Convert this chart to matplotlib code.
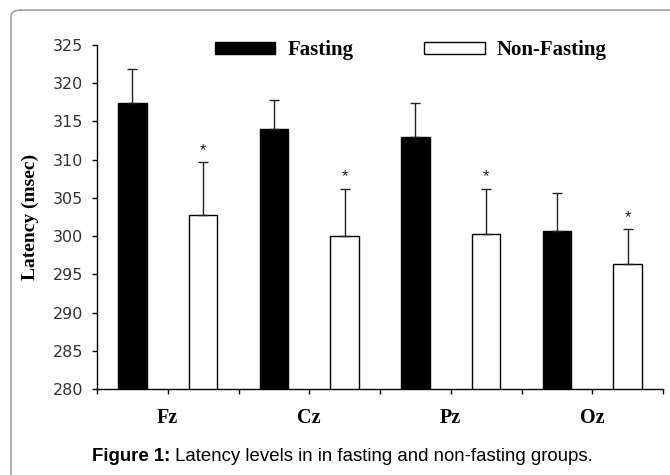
import matplotlib
matplotlib.use("Agg")
import matplotlib.pyplot as plt
from matplotlib.patches import FancyBboxPatch
import numpy as np

categories = ["Fz", "Cz", "Pz", "Oz"]
fasting = [317.4, 314.0, 313.0, 300.7]
fasting_err = [4.5, 3.8, 4.4, 5.0]
nonfasting = [302.8, 300.0, 300.3, 296.3]
nonfasting_err = [6.9, 6.2, 5.9, 4.6]
series_names = ["Fasting", "Non-Fasting"]
y_ticks = [280, 285, 290, 295, 300, 305, 310, 315, 320, 325]
y_label = "Latency (msec)"
caption_bold = "Figure 1:"
caption_rest = " Latency levels in in fasting and non-fasting groups."

serif_bold = dict(family=["Liberation Serif", "DejaVu Serif"], weight="bold")
sans = ["Liberation Sans", "DejaVu Sans"]

fig = plt.figure(figsize=(6.7, 4.75), dpi=100)
fig.patch.set_facecolor("white")

# rounded frame
frame = FancyBboxPatch((11 / 670, 1 - 485 / 475), 700 / 670, 475 / 475,
                       boxstyle="round,pad=0,rounding_size=0.015",
                       transform=fig.transFigure, facecolor="none",
                       edgecolor="#a0a0a0", linewidth=1.2, zorder=0)
fig.add_artist(frame)

ax = fig.add_axes([97 / 670, 1 - 389 / 475, 566 / 670, 344 / 475])
x = np.arange(len(categories))
w = 0.2
err_kw = dict(ecolor="#222222", elinewidth=1.0, capsize=3.3, capthick=1.0)
ax.bar(x + 0.25, fasting, width=w, color="black", edgecolor="black",
       linewidth=1.0, yerr=[np.zeros(4), fasting_err], error_kw=err_kw,
       label=series_names[0], zorder=2)
ax.bar(x + 0.75, nonfasting, width=w, color="white", edgecolor="black",
       linewidth=1.0, yerr=[np.zeros(4), nonfasting_err], error_kw=err_kw,
       label=series_names[1], zorder=2)

for xi, v, e in zip(x + 0.75, nonfasting, nonfasting_err):
    ax.annotate("*", (xi, v + e), xytext=(0, 3), textcoords="offset points",
                ha="center", va="bottom", fontsize=12,
                family=["Liberation Sans", "DejaVu Sans"], color="#222222")

ax.set_xlim(0, 4)
ax.set_ylim(280, 325)
ax.set_yticks(y_ticks)
ax.set_yticklabels([str(t) for t in y_ticks], family=["DejaVu Sans"],
                   fontsize=11.5, color="#333333")
ax.set_xticks(np.arange(0, 4.01, 0.5))
ax.set_xticklabels([])
for i, c in enumerate(categories):
    ax.text(i + 0.5, -0.085, c, transform=ax.get_xaxis_transform(),
            ha="center", va="center", fontsize=14.5, **serif_bold)
ax.tick_params(axis="both", direction="out", length=3.8, width=1, color="black")
ax.tick_params(axis="y", pad=6)
for s in ["top", "right"]:
    ax.spines[s].set_visible(False)
for s in ["left", "bottom"]:
    ax.spines[s].set_linewidth(1.0)
ax.set_ylabel(y_label, fontsize=14, labelpad=10, **serif_bold)

leg = ax.legend(loc="center left", bbox_to_anchor=(0.208, 0.985), ncol=2,
                frameon=False, handlelength=2.9, handleheight=0.55,
                handletextpad=0.58, columnspacing=3.4, borderpad=0,
                borderaxespad=0,
                prop=dict(family=["Liberation Serif"], weight="bold", size=15))

# caption
fig.canvas.draw()
r = fig.canvas.get_renderer()
t1 = fig.text(92 / 670, 1 - 461 / 475, caption_bold, family=sans, weight="bold",
              fontsize=13.4, ha="left", va="baseline")
bb = t1.get_window_extent(r)
fig.text(bb.x1 / fig.bbox.width, 1 - 461 / 475, caption_rest, family=sans,
         fontsize=13.4, ha="left", va="baseline")

fig.savefig("out.png", dpi=100)
